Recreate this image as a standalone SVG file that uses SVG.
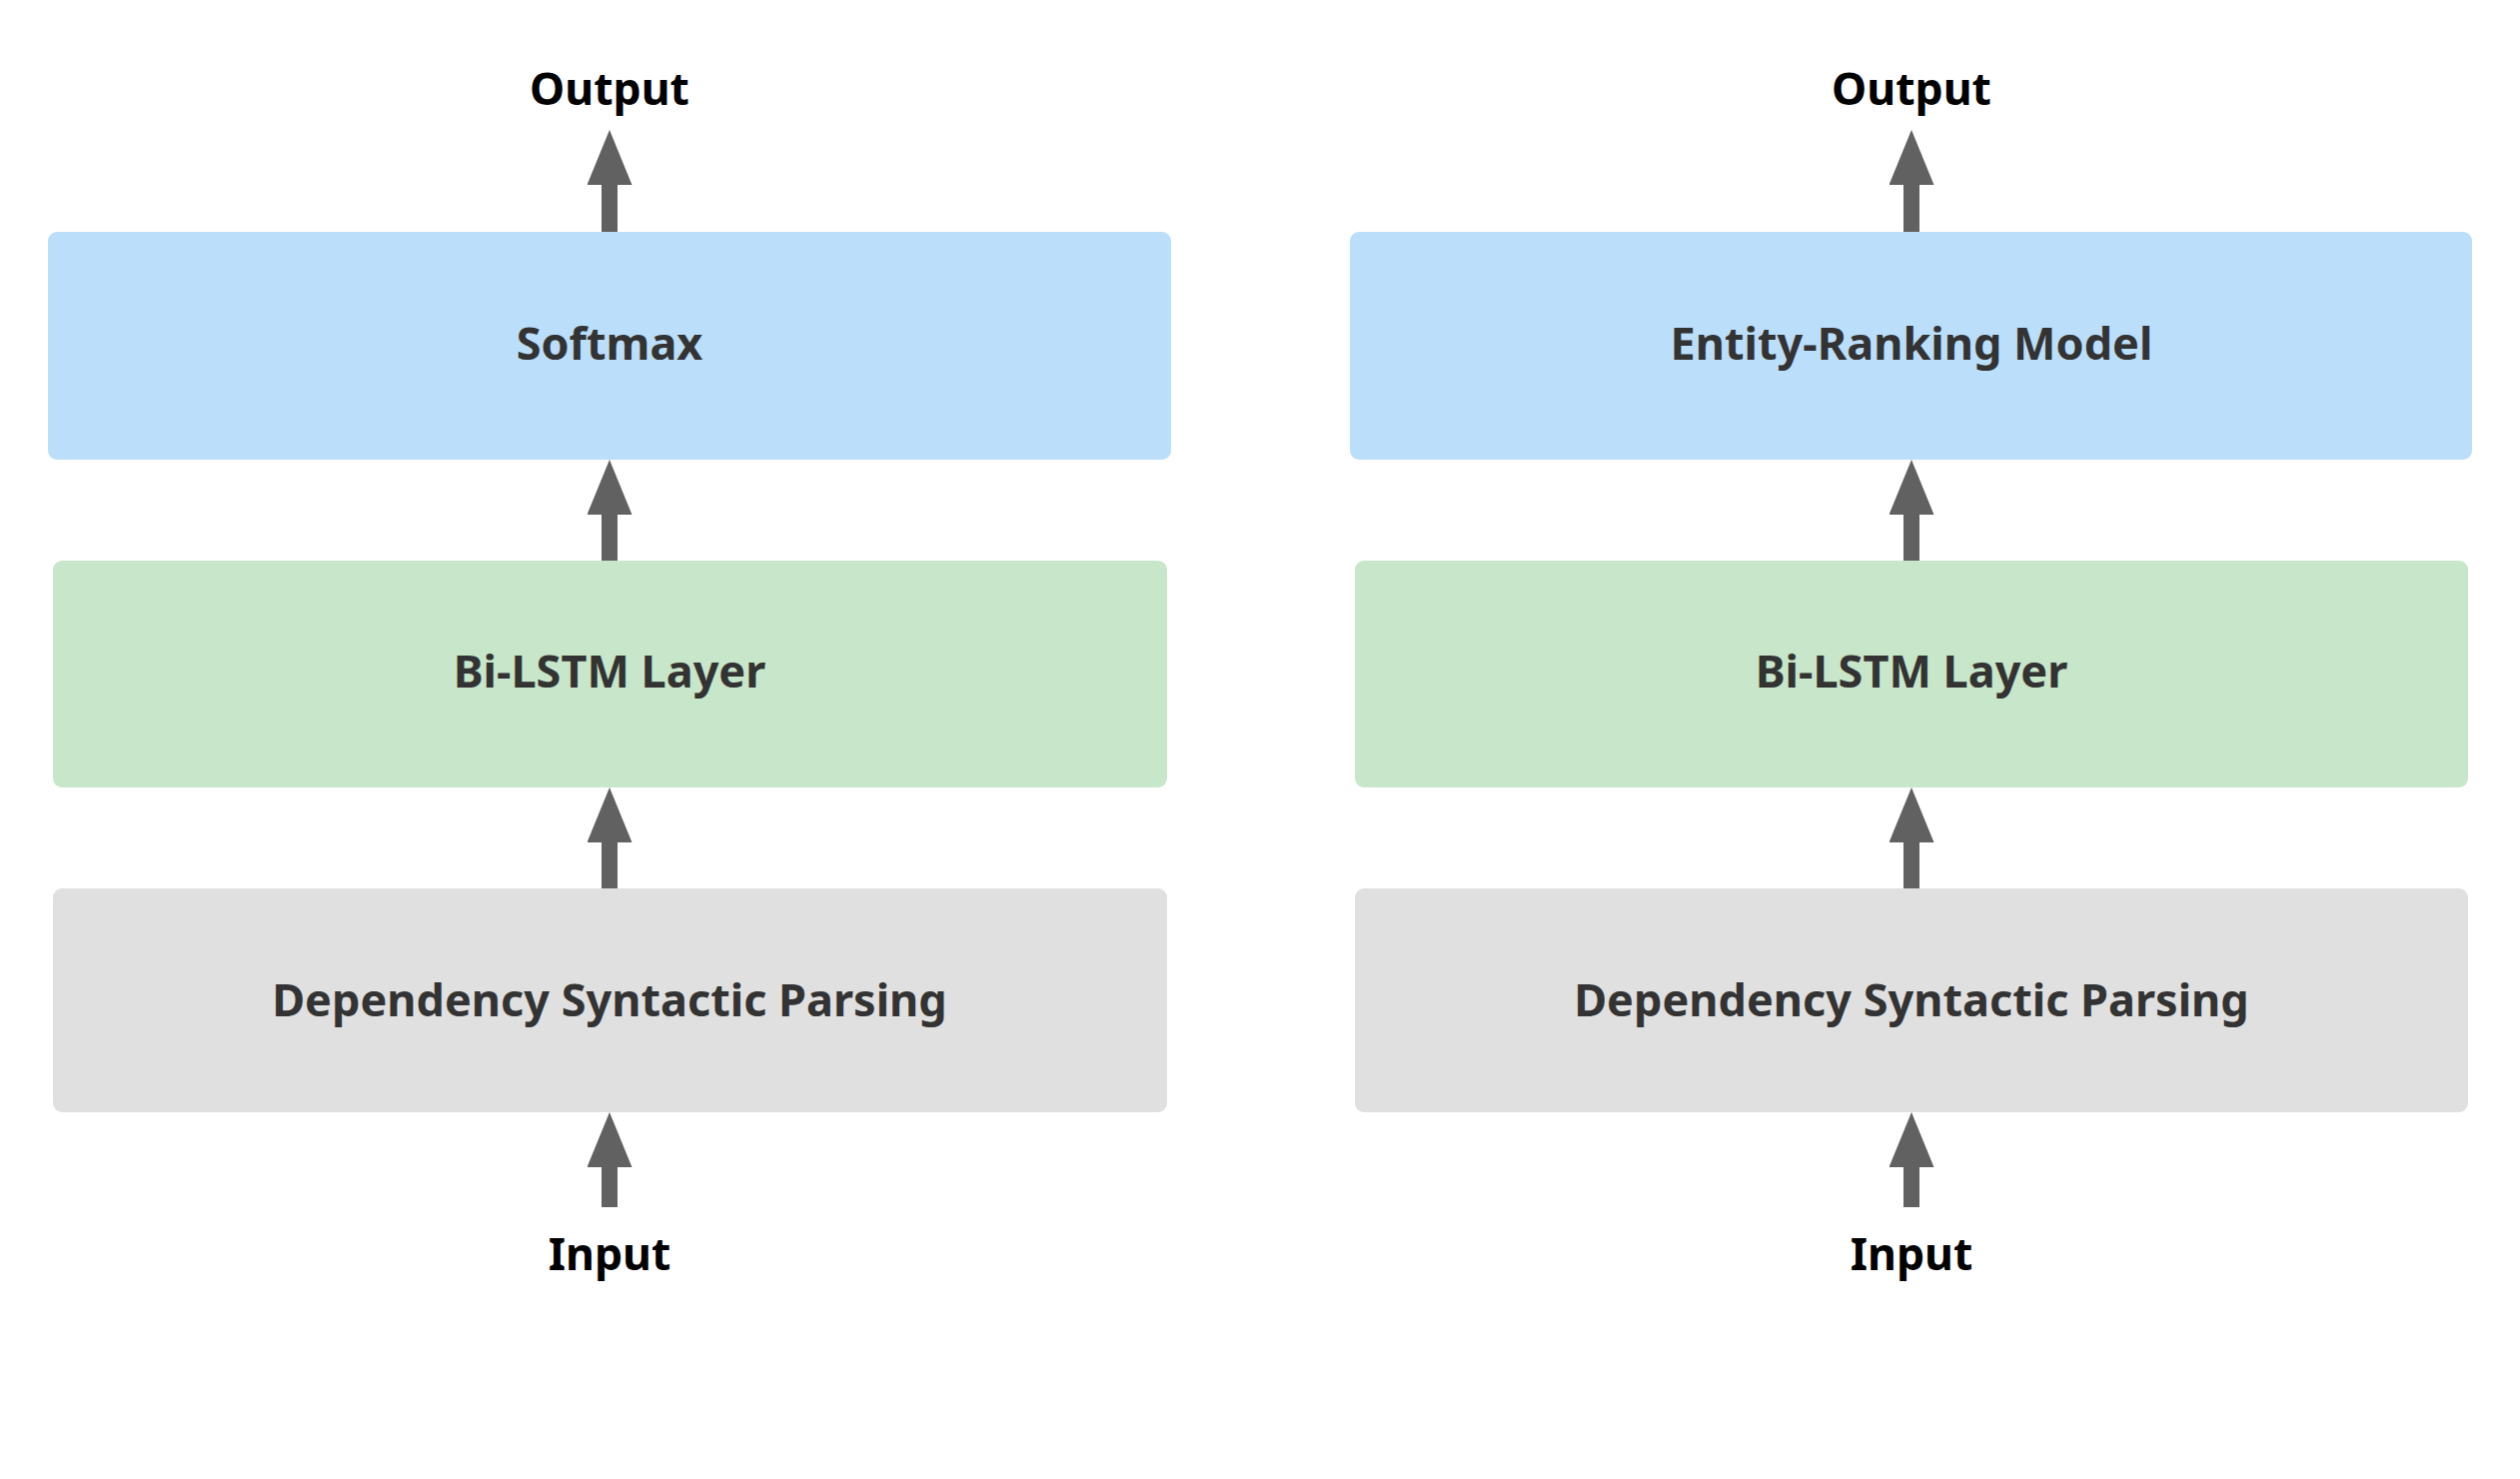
<svg xmlns="http://www.w3.org/2000/svg" width="2522" height="1480" viewBox="0 0 2522 1480">
  <style>
    .box-blue { fill: #BBDEFB; }
    .box-green { fill: #C8E6C9; }
    .box-gray { fill: #E0E0E0; }
    .label { font-family: "Noto Sans", "Open Sans", sans-serif; font-weight: bold; font-size: 45px; fill: #333333; text-anchor: middle; }
    .io { font-family: "Noto Sans", "Open Sans", sans-serif; font-weight: bold; font-size: 44.5px; fill: #000000; text-anchor: middle; }
    .conn { stroke: #616161; stroke-width: 16; fill: none; }
  </style>
  <defs>
    <marker id="head" viewBox="0 0 55 45" refX="0" refY="22.5" markerWidth="55" markerHeight="45" markerUnits="userSpaceOnUse" orient="auto">
      <path d="M0,0 L55,22.5 L0,45 Z" fill="#616161"/>
    </marker>
  </defs>
  <rect width="2522" height="1480" fill="#ffffff"/>

  <g id="connectors">
    <line class="conn" x1="610" y1="232" x2="610" y2="185" marker-end="url(#head)"/>
    <line class="conn" x1="610" y1="561" x2="610" y2="515" marker-end="url(#head)"/>
    <line class="conn" x1="610" y1="889" x2="610" y2="843" marker-end="url(#head)"/>
    <line class="conn" x1="610" y1="1208" x2="610" y2="1168" marker-end="url(#head)"/>
    <line class="conn" x1="1913" y1="232" x2="1913" y2="185" marker-end="url(#head)"/>
    <line class="conn" x1="1913" y1="561" x2="1913" y2="515" marker-end="url(#head)"/>
    <line class="conn" x1="1913" y1="889" x2="1913" y2="843" marker-end="url(#head)"/>
    <line class="conn" x1="1913" y1="1208" x2="1913" y2="1168" marker-end="url(#head)"/>
  </g>

  <g id="left-output"><text class="io" x="610" y="105">Output</text></g>
  <g id="left-softmax">
    <rect class="box-blue" x="48" y="232" width="1124" height="228" rx="9"/>
    <text class="label" x="610" y="360">Softmax</text>
  </g>
  <g id="left-bilstm">
    <rect class="box-green" x="53" y="561" width="1115" height="227" rx="9"/>
    <text class="label" x="610" y="688">Bi-LSTM Layer</text>
  </g>
  <g id="left-parsing">
    <rect class="box-gray" x="53" y="889" width="1115" height="224" rx="9"/>
    <text class="label" x="610" y="1017">Dependency Syntactic Parsing</text>
  </g>
  <g id="left-input"><text class="io" x="610" y="1271">Input</text></g>

  <g id="right-output"><text class="io" x="1913" y="105">Output</text></g>
  <g id="right-ranking">
    <rect class="box-blue" x="1351" y="232" width="1123" height="228" rx="9"/>
    <text class="label" x="1913" y="360">Entity-Ranking Model</text>
  </g>
  <g id="right-bilstm">
    <rect class="box-green" x="1356" y="561" width="1114" height="227" rx="9"/>
    <text class="label" x="1913" y="688">Bi-LSTM Layer</text>
  </g>
  <g id="right-parsing">
    <rect class="box-gray" x="1356" y="889" width="1114" height="224" rx="9"/>
    <text class="label" x="1913" y="1017">Dependency Syntactic Parsing</text>
  </g>
  <g id="right-input"><text class="io" x="1913" y="1271">Input</text></g>
</svg>
